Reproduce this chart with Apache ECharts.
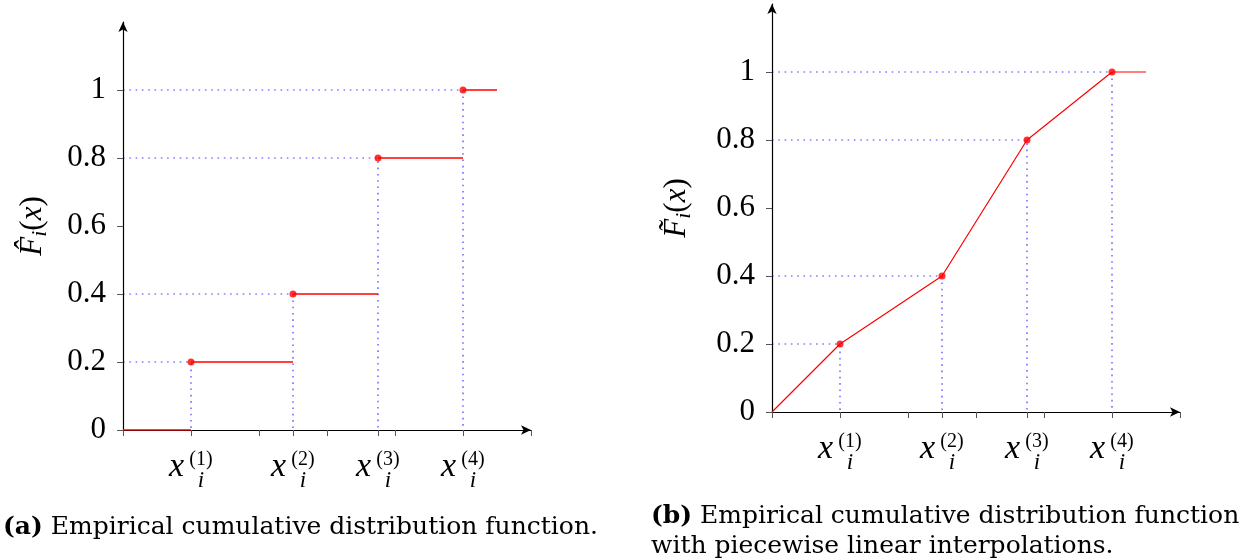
<!DOCTYPE html>
<html>
<head>
<meta charset="utf-8">
<script src="https://cdn.jsdelivr.net/npm/echarts@6/dist/echarts.min.js"></script>
<style>
    html, body { margin: 0; padding: 0; background: #fff; }
    #chart { width: 1250px; height: 559px; }
</style>
</head>
<body>
<div id="chart"></div>
<script>
// data
const xTicks = [0, 1, 2, 2.5, 3, 3.75, 4, 5, 6]
const yTicks = [0, 0.2, 0.4, 0.6, 0.8, 1]
const sampleX = [1, 2.5, 3.75, 5]
const sampleF = [0.2, 0.4, 0.8, 1]
const xStart = 0
const xEnd = 5.5
const xMax = 6
const yMax = 1.2

// styles
const serif = '"Liberation Serif"'
const capFont = '"DejaVu Serif"'
const red = '#ff0000'
const blue = 'rgba(0, 0, 255, 0.75)'
const tickColor = '#555'

// x label: x_i^(k), three stacked lines so sub and sup sit beside the x
const xLabelRich = {
    sp: { width: 20, fontSize: 10, lineHeight: 4 },
    sup: { width: 24, align: 'left', fontSize: 20, lineHeight: 4, fontFamily: serif, color: '#000' },
    x: { width: 20, align: 'left', fontSize: 34, lineHeight: 10, fontStyle: 'italic', fontFamily: serif, color: '#000' },
    pad: { width: 24, fontSize: 10, lineHeight: 10 },
    sp3: { width: 20, fontSize: 10, lineHeight: 18 },
    sub: { width: 24, align: 'left', fontSize: 23, lineHeight: 18, fontStyle: 'italic', fontFamily: serif, color: '#000' },
}
const xLabel = (v) => {
    const k = sampleX.indexOf(v) + 1
    return `{sp|}{sup|(${k})}\n{x|x}{pad|}\n{sp3|}{sub|i}`
}

const nameRich = {
    F: { fontSize: 31, fontStyle: 'italic', fontFamily: serif, color: '#000' },
    sub: { fontSize: 22, fontStyle: 'italic', fontFamily: serif, color: '#000', padding: [14, 0, 0, 0] },
    n: { fontSize: 31, fontFamily: serif, color: '#000' },
    it: { fontSize: 31, fontStyle: 'italic', fontFamily: serif, color: '#000' },
}

const makeX = (grid, inside) => ({
    type: 'value',
    gridIndex: grid,
    min: 0,
    max: xMax,
    axisLine: inside
        ? { show: false }
        : { show: true, symbol: ['none', 'arrow'], symbolSize: [7, 10], lineStyle: { color: '#000', width: 1.2 } },
    axisTick: { show: true, inside: inside, length: 6, customValues: xTicks, lineStyle: { color: tickColor, width: 1 } },
    axisLabel: inside
        ? { show: false }
        : { show: true, customValues: sampleX, margin: 28, formatter: xLabel, rich: xLabelRich },
    splitLine: { show: false },
})

const makeY = (grid, inside, name, nameGap) => ({
    type: 'value',
    gridIndex: grid,
    min: 0,
    max: yMax,
    name: inside ? '' : name,
    nameLocation: 'middle',
    nameGap: nameGap,
    nameRotate: 90,
    nameTextStyle: { rich: nameRich },
    axisLine: inside
        ? { show: false }
        : { show: true, symbol: ['none', 'arrow'], symbolSize: [7, 10], lineStyle: { color: '#000', width: 1.2 } },
    axisTick: { show: true, inside: inside, length: 6, customValues: yTicks, lineStyle: { color: tickColor, width: 1 } },
    axisLabel: inside
        ? { show: false }
        : {
              show: true,
              customValues: yTicks,
              margin: 17,
              fontFamily: serif,
              fontSize: 31,
              color: '#000',
              formatter: (v) => String(v),
          },
    splitLine: { show: false },
})

// guides: dotted from y axis to the point, then down to x axis
const guideSeries = (xi, yi) =>
    sampleX.map((x, i) => ({
        type: 'line',
        xAxisIndex: xi,
        yAxisIndex: yi,
        data: [[0, sampleF[i]], [x, sampleF[i]], [x, 0]],
        symbol: 'none',
        silent: true,
        z: 1,
        lineStyle: { color: blue, width: 1.2, type: [1.6, 4.7] },
    }))

// left: step function
const stepStarts = [xStart].concat(sampleX)
const stepEnds = sampleX.concat([xEnd])
const stepLevels = [0].concat(sampleF)
const stepSeries = stepStarts.map((x0, i) => ({
    type: 'line',
    xAxisIndex: 0,
    yAxisIndex: 0,
    data: [[x0, stepLevels[i]], [stepEnds[i], stepLevels[i]]],
    symbol: 'none',
    z: 3,
    lineStyle: { color: red, width: 1.4 },
}))

// right: piecewise linear
const linearData = [[xStart, 0]].concat(sampleX.map((x, i) => [x, sampleF[i]])).concat([[xEnd, 1]])

const dots = (xi, yi) => ({
    type: 'scatter',
    xAxisIndex: xi,
    yAxisIndex: yi,
    data: sampleX.map((x, i) => [x, sampleF[i]]),
    symbolSize: 7,
    z: 4,
    itemStyle: { color: red },
})

const capStyle = {
    fontFamily: capFont,
    fontSize: 25,
    lineHeight: 30,
    fontWeight: 'normal',
    color: '#000',
    rich: { b: { fontFamily: capFont, fontSize: 25, lineHeight: 30, fontWeight: 'bold', color: '#000' } },
}

const chart = echarts.init(document.getElementById('chart'))
chart.setOption({
    animation: false,
    backgroundColor: '#fff',
    grid: [
        { left: 123, top: 22, width: 408, height: 408 },
        { left: 772, top: 4, width: 408, height: 408 },
    ],
    xAxis: [makeX(0, false), makeX(0, true), makeX(1, false), makeX(1, true)],
    yAxis: [
        makeY(0, false, '{F|F\u0302}{sub|i}{n|(}{it|x}{n|)}', 72),
        makeY(0, true),
        makeY(1, false, '{F|F\u0303}{sub|i}{n|(}{it|x}{n|)}', 77),
        makeY(1, true),
    ],
    title: [
        {
            left: 3,
            top: 512,
            padding: 0,
            text: '{b|(a)} Empirical cumulative distribution function.',
            textStyle: capStyle,
        },
        {
            left: 651,
            top: 501,
            padding: 0,
            text: '{b|(b)} Empirical cumulative distribution function\nwith piecewise linear interpolations.',
            textStyle: capStyle,
        },
    ],
    series: [
        ...guideSeries(0, 0),
        ...stepSeries,
        dots(0, 0),
        ...guideSeries(2, 2),
        {
            type: 'line',
            xAxisIndex: 2,
            yAxisIndex: 2,
            data: linearData,
            symbol: 'none',
            z: 3,
            lineStyle: { color: red, width: 1.2 },
        },
        dots(2, 2),
    ],
})
</script>
</body>
</html>
